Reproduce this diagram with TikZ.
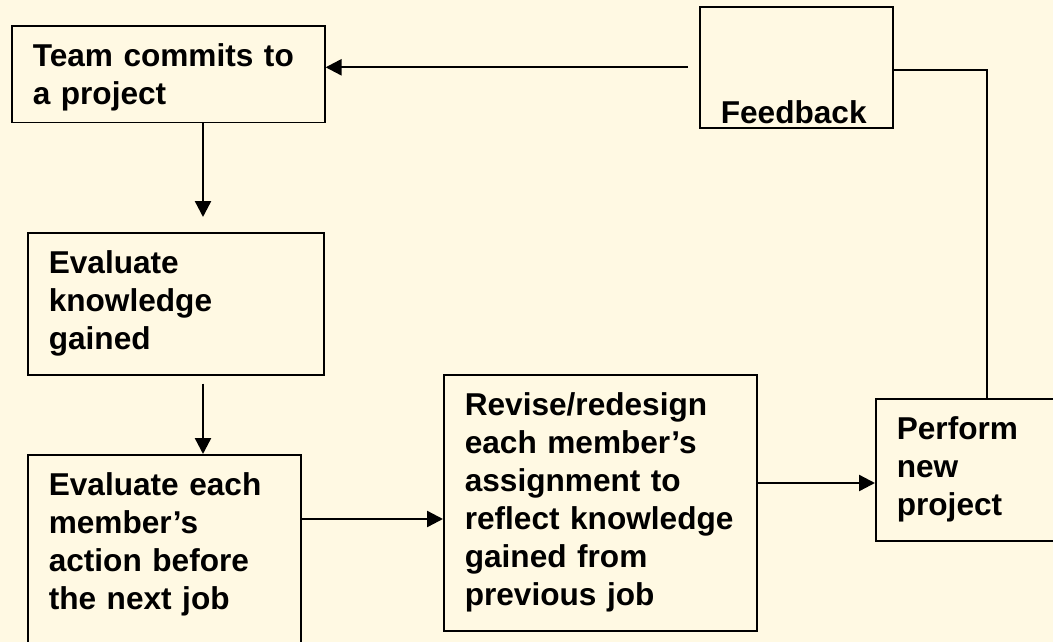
\documentclass[tikz,border=0pt]{standalone}
\usepackage{fontspec}
\setmainfont{Liberation Sans}
\usepackage{xcolor}
\usepackage{tikz}
\usetikzlibrary{calc,arrows.meta}
\definecolor{bgc}{HTML}{FFF9E3}
\newcommand\bxfont{\fontsize{23.7pt}{28.5pt}\selectfont\bfseries}
\tikzset{
  ar/.style={-{Triangle[length=12pt,width=12pt]},line width=1.8pt,black},
  plain/.style={line width=1.1pt,black},
  box/.style={draw=black,line width=1.2pt,anchor=north west,align=left,inner xsep=15.75pt,inner ysep=10.5pt,font=\bxfont,
    execute at begin node=\strut,execute at end node=\strut}
}
\begin{document}
\begin{tikzpicture}[x=0.75pt,y=-0.75pt]
\fill[bgc] (0,0) rectangle (1053,642);
\useasboundingbox (0,0) rectangle (1053,642);
% boxes
\node[box,text width=203.25pt,text depth=31.5pt] (team) at (11,25) {Team commits to\\a project};
\node[box,text width=190.5pt] (know) at (27,232) {Evaluate\\knowledge\\gained};
\node[box,text width=173.25pt,text depth=113pt] (evalm) at (27,454) {Evaluate each\\member’s\\action before\\the next job};
\node[box,text width=203.25pt] (revise) at (443,374) {Revise/redesign\\each member’s\\assignment to\\reflect knowledge\\gained from\\previous job};
\node[box,text width=122.25pt] (perform) at (875,398) {Perform\\new\\project};
\node[box,text width=113.25pt,inner ysep=3pt,text height=84.75pt,text depth=0pt] (fb) at (699,6) {Feedback};
% guide lines for the connectors
\coordinate (colA) at (203,0);
\coordinate (colB) at (987,0);
\coordinate (rowA) at (0,519);
\coordinate (rowB) at (0,483);
\coordinate (rowC) at (0,70);
% connectors
\draw[ar] (team.south -| colA) -- ($(know.north -| colA)+(0,-15)$);
\draw[ar] ($(know.south -| colA)+(0,8)$) -- (evalm.north -| colA);
\draw[ar] (evalm.east |- rowA) -- (revise.west |- rowA);
\draw[ar] (revise.east |- rowB) -- (perform.west |- rowB);
\draw[plain] (fb.east |- rowC) -| (perform.north -| colB);
\draw[ar] ($(fb.west)+(-11,0)$) -- (fb.west -| team.east);
\end{tikzpicture}
\end{document}
